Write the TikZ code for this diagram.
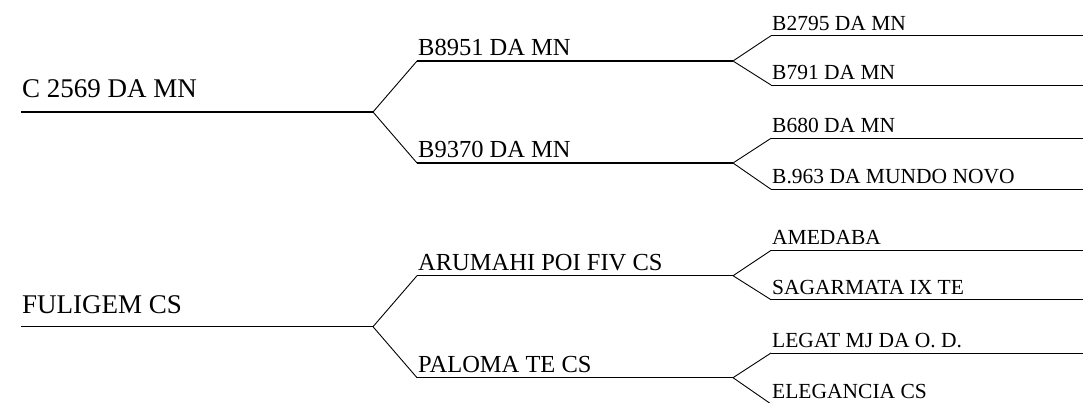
\documentclass[tikz,border=0pt]{standalone}
\usepackage{fontspec}
\setmainfont{Liberation Serif}
\begin{document}
\begin{tikzpicture}[x=1pt,y=-1pt,
  gone/.style={font=\fontsize{27}{30}\selectfont, anchor=base west, inner sep=0pt},
  gtwo/.style={font=\fontsize{24.5}{28}\selectfont, anchor=base west, inner sep=0pt},
  gthree/.style={font=\fontsize{21.5}{24}\selectfont, anchor=base west, inner sep=0pt},
  thickline/.style={line width=1.5pt},
  midline/.style={line width=1.3pt},
  thinline/.style={line width=0.9pt}]
\useasboundingbox (0,0) rectangle (1083,402);

% ---------- top pedigree ----------
\coordinate (a0s) at (21,112);   \coordinate (a0e) at (373,112);
\coordinate (a1s) at (417,61);   \coordinate (a1e) at (733,61);
\coordinate (a2s) at (417,163);  \coordinate (a2e) at (733,163);
\coordinate (a3s) at (771,35.7); \coordinate (a3e) at (1083,35.7);
\coordinate (a4s) at (771,85);   \coordinate (a4e) at (1083,85);
\coordinate (a5s) at (771,138.3);\coordinate (a5e) at (1083,138.3);
\coordinate (a6s) at (771,189.3);\coordinate (a6e) at (1083,189.3);

\draw[thickline] (a0s) -- (a0e);
\draw[thinline] (a1s) -- (a0e) -- (a2s);
\draw[midline] (a1s) -- (a1e);
\draw[midline] (a2s) -- (a2e);
\draw[thinline] (a3s) -- (a1e) -- (a4s);
\draw[thinline] (a5s) -- (a2e) -- (a6s);
\draw[thinline] (a3s) -- (a3e);
\draw[thinline] (a4s) -- (a4e);
\draw[thinline] (a5s) -- (a5e);
\draw[thinline] (a6s) -- (a6e);

\node[gone] (ta0) at (22,97.5) {C 2569 DA MN};
\node[gtwo] (ta1) at (418,55.5) {B8951 DA MN};
\node[gtwo] (ta2) at (418,157.5) {B9370 DA MN};
\node[gthree] (ta3) at (772,30.2) {B2795 DA MN};
\node[gthree] (ta4) at (772,79.5) {B791 DA MN};
\node[gthree] (ta5) at (772,132.8) {B680 DA MN};
\node[gthree] (ta6) at (772,183.8) {B.963 DA MUNDO NOVO};

% ---------- bottom pedigree ----------
\coordinate (b0s) at (21,326.7);  \coordinate (b0e) at (373,326.7);
\coordinate (b1s) at (417,275.7); \coordinate (b1e) at (733,275.7);
\coordinate (b2s) at (417,377.7); \coordinate (b2e) at (733,377.7);
\coordinate (b3s) at (771,250.4); \coordinate (b3e) at (1083,250.4);
\coordinate (b4s) at (771,299.7); \coordinate (b4e) at (1083,299.7);
\coordinate (b5s) at (771,353);   \coordinate (b5e) at (1083,353);
\coordinate (b6s) at (771,404);   \coordinate (b6e) at (1083,404);

\draw[thickline] (b0s) -- (b0e);
\draw[thinline] (b1s) -- (b0e) -- (b2s);
\draw[midline] (b1s) -- (b1e);
\draw[midline] (b2s) -- (b2e);
\draw[thinline] (b3s) -- (b1e) -- (b4s);
\draw[thinline] (b5s) -- (b2e) -- (b6s);
\draw[thinline] (b3s) -- (b3e);
\draw[thinline] (b4s) -- (b4e);
\draw[thinline] (b5s) -- (b5e);
\draw[thinline] (b6s) -- (b6e);

\node[gone] (tb0) at (22,313.3) {FULIGEM CS};
\node[gtwo] (tb1) at (418,270.2) {ARUMAHI POI FIV CS};
\node[gtwo] (tb2) at (418,372.2) {PALOMA TE CS};
\node[gthree] (tb3) at (772,244.9) {AMEDABA};
\node[gthree] (tb4) at (772,294.2) {SAGARMATA IX TE};
\node[gthree] (tb5) at (772,347.5) {LEGAT MJ DA O. D.};
\node[gthree] (tb6) at (772,398.5) {ELEGANCIA CS};
\end{tikzpicture}
\end{document}
